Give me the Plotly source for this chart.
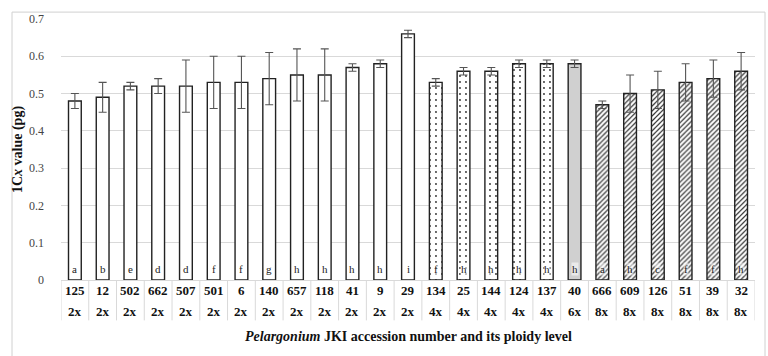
import plotly.graph_objects as go

accessions = ["125", "12", "502", "662", "507", "501", "6", "140", "657", "118", "41", "9", "29",
              "134", "25", "144", "124", "137", "40", "666", "609", "126", "51", "39", "32"]
ploidy = ["2x"] * 13 + ["4x"] * 5 + ["6x"] + ["8x"] * 6
values = [0.48, 0.49, 0.52, 0.52, 0.52, 0.53, 0.53, 0.54, 0.55, 0.55, 0.57, 0.58, 0.66,
          0.53, 0.56, 0.56, 0.58, 0.58, 0.58, 0.47, 0.50, 0.51, 0.53, 0.54, 0.56]
errors = [0.02, 0.04, 0.01, 0.02, 0.07, 0.07, 0.07, 0.07, 0.07, 0.07, 0.01, 0.01, 0.01,
          0.01, 0.01, 0.01, 0.01, 0.01, 0.01, 0.01, 0.05, 0.05, 0.05, 0.05, 0.05]
letters = ["a", "b", "e", "d", "d", "f", "f", "g", "h", "h", "h", "h", "i",
           "f", "h", "h", "h", "h", "h", "a", "h", "c", "f", "f", "h"]
y_ticks = [0, 0.1, 0.2, 0.3, 0.4, 0.5, 0.6, 0.7]

style = {
    "2x": dict(color="white", shape="", solidity=0.3, size=6),
    "4x": dict(color="white", shape=".", solidity=0.08, size=6),
    "6x": dict(color="#d0d0d0", shape="", solidity=0.3, size=6),
    "8x": dict(color="white", shape="/", solidity=0.35, size=3.5),
}

n = len(accessions)
xs = list(range(n))
SERIF = "Liberation Serif"

fig = go.Figure()
for p in ["2x", "4x", "6x", "8x"]:
    idx = [i for i in xs if ploidy[i] == p]
    st = style[p]
    marker = dict(color=st["color"], line=dict(color="#222222", width=1.4))
    if st["shape"]:
        marker["pattern"] = dict(shape=st["shape"], solidity=st["solidity"], size=st["size"],
                                 fgcolor="#333333", fgopacity=1)
    fig.add_trace(go.Bar(
        x=idx, y=[values[i] for i in idx],
        width=0.46,
        marker=marker,
        error_y=dict(type="data", array=[errors[i] for i in idx], visible=True,
                     color="#555555", thickness=1.1, width=4),
        hoverinfo="skip",
    ))

annotations = []
for i in xs:
    annotations.append(dict(x=i, y=0, xref="x", yref="y", text=letters[i], showarrow=False,
                            yanchor="bottom", yshift=4, bgcolor="rgba(255,255,255,0.55)", borderpad=0,
                            font=dict(family=SERIF, size=11, color="#222")))
    annotations.append(dict(x=i, y=-10.5 / 265, xref="x", yref="paper", text="<b>%s</b>" % accessions[i],
                            showarrow=False, yanchor="middle", font=dict(family=SERIF, size=13, color="#111")))
    annotations.append(dict(x=i, y=-31.5 / 265, xref="x", yref="paper", text="<b>%s</b>" % ploidy[i],
                            showarrow=False, yanchor="middle", font=dict(family=SERIF, size=13, color="#111")))
annotations.append(dict(x=0.5, y=-57 / 265, xref="paper", yref="paper",
                        text="<b><i>Pelargonium</i> JKI accession number and its ploidy level</b>",
                        showarrow=False, yanchor="middle", font=dict(family=SERIF, size=14, color="#111")))

shapes = []
for i in range(n + 1):
    shapes.append(dict(type="line", xref="x", yref="paper", x0=i - 0.5, x1=i - 0.5, y0=0, y1=-41 / 265,
                       line=dict(color="#d9d9d9", width=1)))
shapes.append(dict(type="rect", xref="paper", yref="paper",
                   x0=(12 - 61) / 694, x1=(765 - 61) / 694, y0=-(356 - 280 + 2) / 265, y1=(280 - 8) / 265,
                   line=dict(color="#d0d0d0", width=1), layer="below"))

fig.update_layout(
    width=768, height=356,
    margin=dict(l=61, r=13, t=15, b=76),
    paper_bgcolor="white", plot_bgcolor="white",
    showlegend=False,
    barmode="overlay",
    annotations=annotations,
    shapes=shapes,
    xaxis=dict(range=[-0.5, n - 0.5], tickvals=xs, showticklabels=False, showgrid=False,
               zeroline=False, showline=True, linecolor="#d9d9d9", linewidth=1, ticks=""),
    yaxis=dict(range=[0, 0.7], tickvals=y_ticks, ticktext=[("%g" % v) for v in y_ticks],
               showgrid=True, gridcolor="#d9d9d9", gridwidth=1, zeroline=False, showline=False,
               tickfont=dict(family=SERIF, size=12, color="#444444"), ticks="", ticklabelstandoff=16,
               title=dict(text="<b>1C<i>x</i> value (pg)</b>", font=dict(family=SERIF, size=14, color="#111"),
                          standoff=3)),
)

fig.write_html("out.html")
